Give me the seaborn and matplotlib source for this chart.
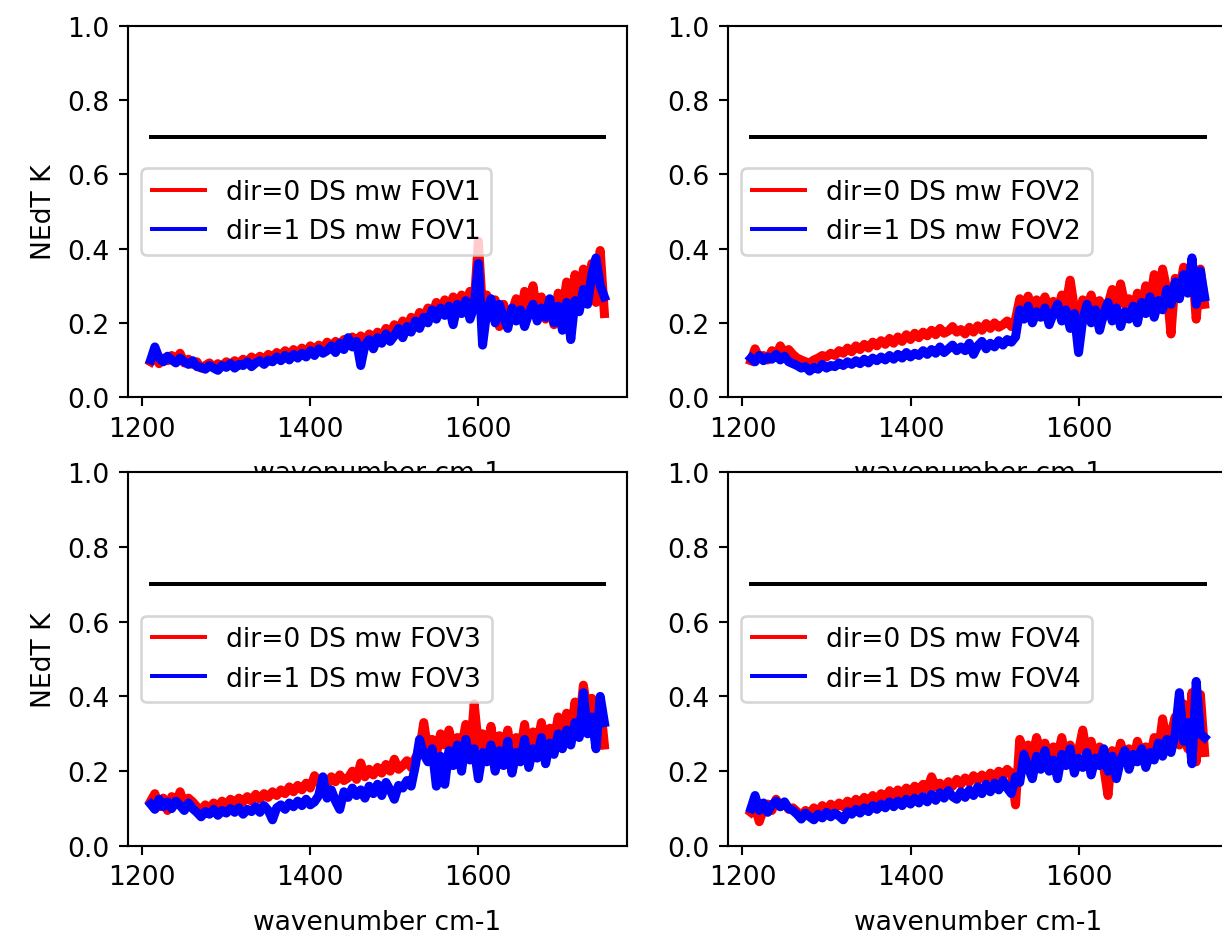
import numpy as np
import seaborn as sns
import matplotlib.pyplot as plt

# wavenumber grid, cm-1
wavenumber = np.arange(1210, 1751, 5)

# NEdT (K), in thousandths of a kelvin, 10 values per 50 cm-1
fov1_dir0 = [95, 115, 90, 105, 98, 112, 100, 118, 92, 102,
             88, 95, 78, 85, 92, 80, 90, 82, 95, 88,
             98, 90, 102, 95, 108, 98, 110, 100, 115, 105,
             120, 110, 125, 112, 128, 118, 132, 120, 138, 125,
             140, 130, 148, 135, 150, 140, 155, 145, 162, 150,
             165, 150, 170, 158, 175, 162, 185, 170, 195, 178,
             205, 188, 215, 198, 228, 210, 240, 222, 255, 232,
             262, 240, 270, 248, 275, 255, 285, 250, 420, 230,
             275, 215, 262, 190, 250, 205, 230, 265, 210, 285,
             240, 300, 225, 270, 210, 250, 195, 280, 230, 310,
             260, 330, 245, 345, 285, 360, 255, 395, 225]
fov1_dir1 = [100, 135, 105, 95, 110, 100, 92, 105, 95, 88,
             98, 82, 80, 75, 85, 78, 72, 85, 80, 90,
             78, 88, 85, 95, 82, 92, 98, 88, 100, 95,
             108, 98, 112, 100, 115, 105, 118, 108, 125, 112,
             130, 118, 125, 138, 120, 145, 128, 160, 135, 150,
             85, 140, 155, 130, 160, 145, 170, 150, 165, 185,
             160, 190, 175, 205, 185, 215, 200, 235, 210, 240,
             220, 245, 195, 250, 225, 260, 210, 245, 360, 140,
             230, 265, 200, 250, 215, 185, 240, 205, 235, 190,
             225, 250, 205, 240, 215, 265, 200, 245, 180, 255,
             155, 260, 230, 290, 250, 330, 375, 300, 270]

fov2_dir0 = [98, 130, 105, 112, 100, 125, 110, 138, 118, 128,
             115, 105, 100, 95, 92, 100, 105, 112, 108, 118,
             112, 125, 118, 132, 122, 138, 128, 142, 132, 148,
             138, 152, 142, 158, 145, 162, 150, 168, 155, 172,
             160, 175, 165, 180, 168, 185, 172, 178, 190, 175,
             182, 170, 188, 175, 192, 180, 198, 185, 200, 188,
             195, 205, 190, 210, 265, 240, 272, 235, 262, 245,
             270, 238, 258, 232, 275, 250, 315, 240, 210, 262,
             240, 275, 228, 260, 215, 250, 290, 235, 305, 250,
             265, 225, 280, 240, 300, 255, 330, 270, 345, 290,
             170, 320, 285, 350, 300, 365, 210, 345, 250]
fov2_dir1 = [105, 95, 112, 98, 108, 102, 115, 100, 110, 95,
             90, 85, 78, 82, 70, 80, 75, 88, 78, 85,
             82, 92, 85, 95, 88, 98, 90, 102, 92, 105,
             98, 108, 100, 112, 102, 115, 105, 120, 108, 118,
             112, 125, 115, 128, 118, 135, 120, 130, 140, 125,
             135, 125, 145, 115, 138, 150, 130, 145, 135, 152,
             140, 155, 148, 162, 235, 210, 245, 200, 230, 215,
             240, 195, 225, 250, 205, 235, 185, 225, 120, 210,
             250, 200, 235, 180, 225, 255, 205, 240, 190, 230,
             210, 245, 200, 255, 225, 270, 215, 260, 235, 290,
             250, 310, 265, 330, 280, 375, 250, 340, 270]

fov3_dir0 = [120, 140, 105, 128, 95, 132, 115, 145, 110, 128,
             118, 105, 95, 110, 100, 115, 105, 120, 110, 125,
             115, 128, 118, 132, 120, 138, 125, 140, 130, 145,
             135, 150, 140, 158, 145, 162, 150, 168, 155, 188,
             170, 180, 165, 185, 172, 190, 175, 182, 200, 178,
             222, 185, 205, 190, 210, 195, 218, 200, 232, 205,
             215, 228, 210, 235, 255, 330, 255, 285, 245, 300,
             270, 310, 255, 290, 265, 325, 240, 380, 270, 300,
             250, 320, 235, 295, 260, 310, 225, 290, 255, 325,
             240, 305, 270, 330, 255, 315, 280, 345, 270, 355,
             300, 385, 320, 430, 355, 395, 300, 380, 270]
fov3_dir1 = [112, 98, 125, 105, 118, 100, 120, 108, 95, 115,
             100, 90, 78, 92, 85, 98, 82, 95, 88, 100,
             90, 102, 85, 98, 92, 105, 90, 108, 95, 70,
             102, 110, 98, 115, 105, 120, 108, 125, 110, 118,
             135, 185, 128, 150, 120, 98, 145, 130, 155, 135,
             150, 128, 160, 140, 165, 135, 170, 150, 125, 162,
             155, 175, 160, 215, 285, 245, 225, 260, 160, 240,
             165, 255, 215, 270, 200, 285, 230, 260, 180, 250,
             225, 270, 200, 255, 215, 280, 195, 250, 225, 285,
             210, 260, 235, 290, 220, 275, 245, 300, 260, 310,
             270, 330, 290, 410, 300, 345, 260, 400, 330]

fov4_dir0 = [90, 105, 65, 98, 112, 95, 125, 105, 115, 98,
             102, 92, 80, 95, 85, 102, 90, 108, 95, 112,
             100, 115, 105, 120, 108, 125, 112, 130, 118, 135,
             122, 140, 128, 148, 132, 150, 138, 155, 142, 160,
             148, 165, 152, 185, 158, 168, 150, 172, 160, 178,
             165, 182, 170, 188, 175, 190, 178, 195, 182, 200,
             188, 205, 195, 110, 285, 250, 270, 235, 290, 250,
             275, 230, 265, 240, 290, 225, 270, 245, 255, 310,
             240, 280, 225, 265, 210, 135, 255, 220, 275, 240,
             260, 225, 280, 245, 265, 230, 290, 250, 340, 275,
             300, 345, 270, 380, 260, 410, 225, 405, 250]
fov4_dir1 = [100, 135, 95, 115, 90, 110, 120, 105, 118, 100,
             95, 85, 72, 88, 78, 70, 85, 75, 90, 78,
             88, 80, 70, 92, 85, 98, 88, 102, 92, 108,
             98, 112, 102, 118, 105, 120, 108, 125, 112, 128,
             115, 132, 118, 138, 122, 142, 128, 148, 132, 125,
             145, 130, 150, 135, 158, 140, 165, 145, 168, 150,
             175, 155, 140, 185, 170, 245, 210, 180, 240, 205,
             255, 200, 230, 180, 245, 215, 260, 195, 235, 210,
             250, 190, 235, 215, 260, 200, 240, 180, 230, 255,
             205, 245, 225, 260, 210, 250, 230, 275, 240, 285,
             250, 300, 410, 280, 330, 220, 440, 300, 290]

fov_names = ['FOV1', 'FOV2', 'FOV3', 'FOV4']
dir0_series = [fov1_dir0, fov2_dir0, fov3_dir0, fov4_dir0]
dir1_series = [fov1_dir1, fov2_dir1, fov3_dir1, fov4_dir1]
spec_limit = 0.7

fig = plt.figure(figsize=(6.4, 4.9), dpi=191)

# axes boxes (left, bottom, width, height) in figure fraction
boxes = [(0.1047, 0.5748, 0.4083, 0.3964),
         (0.5957, 0.5748, 0.4083, 0.3964),
         (0.1047, 0.0951, 0.4083, 0.3996),
         (0.5957, 0.0951, 0.4083, 0.3996)]

for i, name in enumerate(fov_names):
    ax = fig.add_axes(boxes[i])
    y0 = np.array(dir0_series[i]) / 1000.0
    y1 = np.array(dir1_series[i]) / 1000.0
    sns.lineplot(x=wavenumber, y=np.full(len(wavenumber), spec_limit),
                 color='black', linewidth=1.5, ax=ax)
    # thick strokes stand in for the dense, noisy spectra
    sns.lineplot(x=wavenumber, y=y0, color='red', linewidth=3.4,
                 label='dir=0 DS mw ' + name, ax=ax)
    sns.lineplot(x=wavenumber, y=y1, color='blue', linewidth=3.4,
                 label='dir=1 DS mw ' + name, ax=ax)
    ax.set_ylim(0, 1)
    ax.set_xticks([1200, 1400, 1600])
    ax.set_xlabel('wavenumber cm-1', labelpad=7)
    ax.set_ylabel('NEdT K' if i % 2 == 0 else '')
    leg = ax.legend(loc='center left')
    for handle in leg.get_lines():
        handle.set_linewidth(1.5)

plt.savefig('out.png', dpi=191)
plt.close()
